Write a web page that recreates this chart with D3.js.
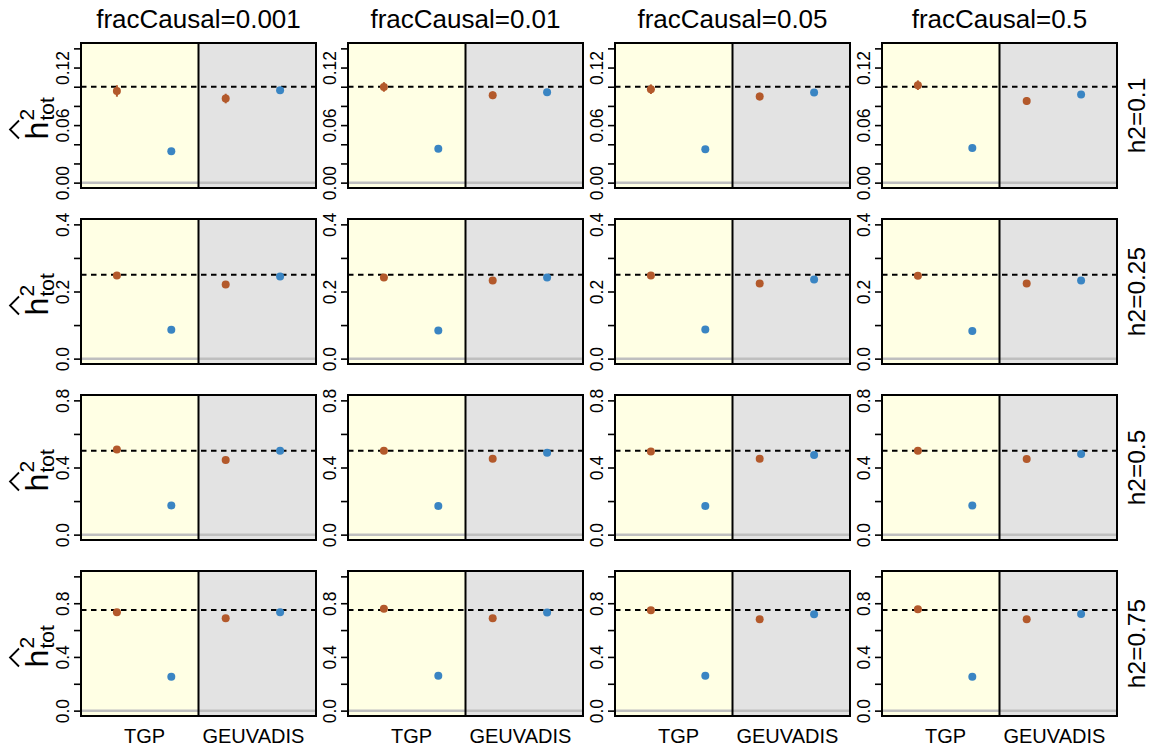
<!DOCTYPE html>
<html>
<head>
<meta charset="utf-8">
<script src="https://cdn.jsdelivr.net/npm/d3@7"></script>
<style>
  html, body { margin: 0; padding: 0; background: #fff; }
  svg { display: block; font-family: "Liberation Sans", Arial, Helvetica, sans-serif; }
</style>
</head>
<body>
<svg id="chart" width="1150" height="749"></svg>
<script>
// ---------------- data ----------------
const fracCausal = ["0.001", "0.01", "0.05", "0.5"];        // columns
const h2Values   = [0.1, 0.25, 0.5, 0.75];                  // rows (true h2, dashed line)
const h2Labels   = ["h2=0.1", "h2=0.25", "h2=0.5", "h2=0.75"];
const datasets   = ["TGP", "GEUVADIS"];

// y-axis limits, tick steps, labelled ticks per row
const yMax        = [0.14, 0.4, 0.8, 1.0];
const yTickStep   = [0.02, 0.1, 0.2, 0.2];
const yTickLabels = [[0, 0.06, 0.12], [0, 0.2, 0.4], [0, 0.4, 0.8], [0, 0.4, 0.8]];
const yTickDigits = [2, 1, 1, 1];

// estimates [row][col]; orange = method A, blue = method B
const orangeTGP = [
  [0.0956, 0.0998, 0.0974, 0.1016],
  [0.248, 0.242, 0.248, 0.247],
  [0.508, 0.500, 0.495, 0.500],
  [0.733, 0.758, 0.748, 0.755]
];
const blueTGP = [
  [0.0326, 0.0354, 0.0347, 0.0361],
  [0.086, 0.0835, 0.0865, 0.0826],
  [0.174, 0.170, 0.170, 0.173],
  [0.253, 0.260, 0.260, 0.253]
];
const orangeGEU = [
  [0.0877, 0.0911, 0.0898, 0.0852],
  [0.221, 0.233, 0.224, 0.224],
  [0.444, 0.452, 0.452, 0.450],
  [0.688, 0.688, 0.680, 0.680]
];
const blueGEU = [
  [0.0963, 0.0943, 0.0939, 0.0918],
  [0.245, 0.242, 0.236, 0.233],
  [0.500, 0.488, 0.475, 0.480],
  [0.733, 0.731, 0.718, 0.720]
];
// standard errors (error bars) [row][col]
const seOrangeTGP = [
  [0.006, 0.005, 0.005, 0.005],
  [0.008, 0.008, 0.008, 0.008],
  [0.008, 0.008, 0.008, 0.008],
  [0.008, 0.008, 0.008, 0.008]
];
const seOrangeGEU = [
  [0.005, 0.004, 0.004, 0.004],
  [0.007, 0.007, 0.007, 0.007],
  [0.008, 0.008, 0.008, 0.008],
  [0.008, 0.008, 0.008, 0.008]
];
const seBlue = [0.002, 0.003, 0.004, 0.005];

// ---------------- layout ----------------
const svg = d3.select("#chart");
const left0 = 81, colStep = 267, top0 = 43, rowStep = 176;
const pw = 235, ph = 145;
const orange = "#b3592b", blue = "#3a85c3";
const bgYellow = "#ffffe4", bgGray = "#e3e3e3";
const FONT = "'Liberation Sans', Arial, Helvetica, sans-serif";

const x = d3.scaleLinear().domain([0.42, 2.58]).range([0, pw]);
const xPos = { oT: 0.75, bT: 1.25, oG: 1.75, bG: 2.25 };

// column titles
fracCausal.forEach((f, c) => {
  svg.append("text")
    .attr("x", left0 + c * colStep + pw / 2)
    .attr("y", 28)
    .attr("text-anchor", "middle")
    .attr("font-size", 26)
    .text("fracCausal=" + f);
});

h2Values.forEach((h2, r) => {
  const m = yMax[r];
  const y = d3.scaleLinear().domain([-0.04 * m, 1.04 * m]).range([ph, 0]);
  const ticks = d3.range(0, m + 1e-9, yTickStep[r]);
  const top = top0 + r * rowStep;

  fracCausal.forEach((f, c) => {
    const g = svg.append("g").attr("transform", `translate(${left0 + c * colStep},${top})`);
    // backgrounds
    g.append("rect").attr("x", 0).attr("y", 0).attr("width", x(1.5)).attr("height", ph).attr("fill", bgYellow);
    g.append("rect").attr("x", x(1.5)).attr("y", 0).attr("width", pw - x(1.5)).attr("height", ph).attr("fill", bgGray);
    // zero line
    g.append("line").attr("x1", 0).attr("x2", pw).attr("y1", y(0)).attr("y2", y(0))
      .attr("stroke", "#bfbfbf").attr("stroke-width", 2.5);
    // dashed true h2 line
    g.append("line").attr("x1", 0).attr("x2", pw).attr("y1", y(h2)).attr("y2", y(h2))
      .attr("stroke", "#000").attr("stroke-width", 2).attr("stroke-dasharray", "5.5,4.5");
    // divider
    g.append("line").attr("x1", x(1.5)).attr("x2", x(1.5)).attr("y1", 0).attr("y2", ph)
      .attr("stroke", "#000").attr("stroke-width", 2);

    const pts = [
      { xv: xPos.oT, v: orangeTGP[r][c], se: seOrangeTGP[r][c], col: orange },
      { xv: xPos.bT, v: blueTGP[r][c],   se: seBlue[r],          col: blue },
      { xv: xPos.oG, v: orangeGEU[r][c], se: seOrangeGEU[r][c], col: orange },
      { xv: xPos.bG, v: blueGEU[r][c],   se: seBlue[r],          col: blue }
    ];
    g.selectAll("line.err").data(pts).enter().append("line")
      .attr("class", "err")
      .attr("x1", d => x(d.xv)).attr("x2", d => x(d.xv))
      .attr("y1", d => y(d.v - d.se)).attr("y2", d => y(d.v + d.se))
      .attr("stroke", d => d.col).attr("stroke-width", 2);
    g.selectAll("circle").data(pts).enter().append("circle")
      .attr("cx", d => x(d.xv)).attr("cy", d => y(d.v)).attr("r", 4)
      .attr("fill", d => d.col);

    // border
    g.append("rect").attr("x", 0).attr("y", 0).attr("width", pw).attr("height", ph)
      .attr("fill", "none").attr("stroke", "#000").attr("stroke-width", 2);

    // y axis
    const labelled = yTickLabels[r];
    const fmt = d3.format("." + yTickDigits[r] + "f");
    const ax = g.append("g").call(
      d3.axisLeft(y).tickValues(ticks).tickSize(7).tickSizeOuter(0)
        .tickFormat(d => labelled.some(l => Math.abs(l - d) < 1e-9) ? fmt(d) : "")
    );
    ax.select(".domain").remove();
    ax.append("line").attr("x1", 0).attr("x2", 0).attr("y1", y(0)).attr("y2", y(ticks[ticks.length - 1]))
      .attr("stroke", "#000").attr("stroke-width", 1.6);
    ax.selectAll(".tick line").attr("stroke", "#000").attr("stroke-width", 1.6);
    ax.selectAll(".tick text")
      .attr("x", 0).attr("y", -12).attr("dy", null)
      .attr("transform", "rotate(-90)")
      .attr("text-anchor", "middle")
      .attr("font-size", 17.5)
      .attr("font-family", FONT)
      .attr("fill", "#000");

    // x labels (bottom row only)
    if (r === h2Values.length - 1) {
      const xa = g.append("g").attr("transform", `translate(0,${ph})`).call(
        d3.axisBottom(x).tickValues([1, 2]).tickSize(0).tickPadding(13)
          .tickFormat((d, i) => datasets[i])
      );
      xa.select(".domain").remove();
      xa.selectAll("text").attr("font-size", 20)
        .attr("font-family", FONT).attr("fill", "#000");
    }
  });

  // row strip label
  svg.append("text")
    .attr("transform", `translate(1145,${top + ph / 2}) rotate(-90)`)
    .attr("text-anchor", "middle")
    .attr("font-size", 24.5)
    .text(h2Labels[r]);

  // y-axis title: hat h ^2 _tot
  const yl = svg.append("g").attr("transform", `translate(48,${top + ph / 2}) rotate(-90)`);
  yl.append("text").attr("x", -24).attr("y", 0).attr("font-size", 32).text("h");
  yl.append("text").attr("x", -5).attr("y", -14).attr("font-size", 21).text("2");
  yl.append("text").attr("x", -5).attr("y", 6).attr("font-size", 21).text("tot");
  yl.append("path")
    .attr("d", "M-23,-29 L-14,-38 L-5,-29")
    .attr("fill", "none").attr("stroke", "#000").attr("stroke-width", 1.8);
});
</script>
</body>
</html>
